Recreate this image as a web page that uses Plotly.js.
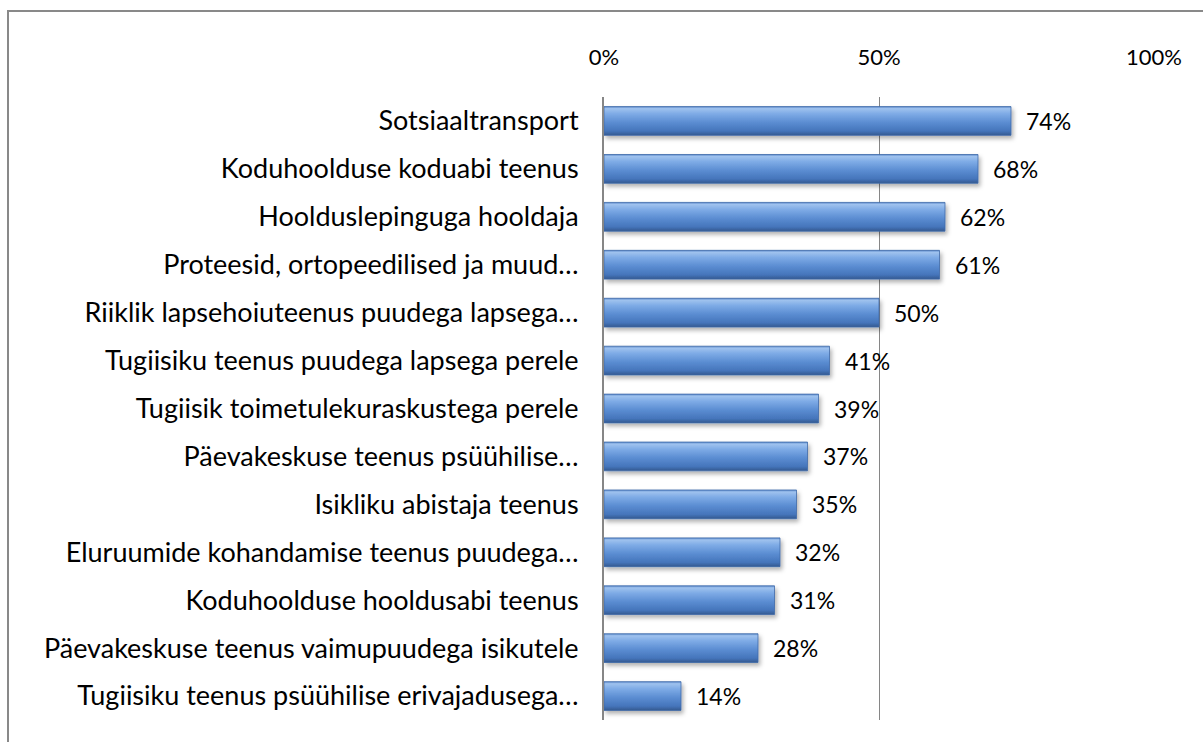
<!DOCTYPE html>
<html>
<head>
<meta charset="utf-8">
<script src="https://cdn.plot.ly/plotly-3.0.1.min.js"></script>
<style>
  html, body { margin: 0; padding: 0; background: #ffffff; }
  #wrap { position: relative; width: 1203px; height: 742px; overflow: hidden; }
  #chart { position: absolute; left: 0; top: 0; width: 1203px; height: 742px; }
  #frameTop { position: absolute; left: 7px; top: 10px; width: 1196px; height: 2px; background: #898989; pointer-events: none; }
  #frameLeft { position: absolute; left: 7px; top: 10px; width: 2px; height: 732px; background: #898989; pointer-events: none; }
</style>
</head>
<body>
<div id="wrap">
  <div id="chart"></div>
  <div id="frameTop"></div>
  <div id="frameLeft"></div>
</div>
<script>
const categories = [
  "Sotsiaaltransport",
  "Koduhoolduse koduabi teenus",
  "Hoolduslepinguga hooldaja",
  "Proteesid, ortopeedilised ja muud…",
  "Riiklik lapsehoiuteenus puudega lapsega…",
  "Tugiisiku teenus puudega lapsega perele",
  "Tugiisik toimetulekuraskustega perele",
  "Päevakeskuse teenus psüühilise…",
  "Isikliku abistaja teenus",
  "Eluruumide kohandamise teenus puudega…",
  "Koduhoolduse hooldusabi teenus",
  "Päevakeskuse teenus vaimupuudega isikutele",
  "Tugiisiku teenus psüühilise erivajadusega…"
];
const values = [74, 68, 62, 61, 50, 41, 39, 37, 35, 32, 31, 28, 14];
const tickValues = [0, 50, 100];
const tickLabels = ["0%", "50%", "100%"];

const FONT = "Lato, 'Open Sans', sans-serif";

const trace = {
  type: "bar",
  orientation: "h",
  x: values,
  y: categories,
  marker: { color: "#5b8fd3", line: { width: 0 } },
  hoverinfo: "skip"
};

const annotations = values.map((v, i) => ({
  x: v, y: categories[i], xref: "x", yref: "y",
  text: v + "%", showarrow: false, xanchor: "left", yanchor: "middle",
  xshift: 13, font: { family: FONT, size: 23, color: "#000000" }
}));

const layout = {
  width: 1203, height: 742,
  margin: { l: 604, r: 49, t: 97, b: 22, pad: 0 },
  paper_bgcolor: "#ffffff", plot_bgcolor: "#ffffff",
  showlegend: false,
  bargap: 0.4,
  font: { family: FONT, color: "#000000" },
  xaxis: {
    side: "top", range: [0, 100], tickvals: tickValues, ticktext: tickLabels,
    showgrid: true, gridcolor: "#868686", gridwidth: 1,
    zeroline: false, showline: false, ticks: "", ticklabelstandoff: 27,
    tickfont: { family: FONT, size: 22, color: "#000000" }, fixedrange: true
  },
  yaxis: {
    autorange: "reversed", type: "category",
    showgrid: false, zeroline: false,
    showline: true, linecolor: "#868686", linewidth: 2,
    ticks: "", ticklabelstandoff: 18,
    tickfont: { family: FONT, size: 27, color: "#000000" }, fixedrange: true
  },
  annotations: annotations
};

Plotly.newPlot("chart", [trace], layout, { displayModeBar: false, staticPlot: true }).then(gd => {
  const svg = gd.querySelector("svg.main-svg");
  const ns = "http://www.w3.org/2000/svg";
  let defs = svg.querySelector("defs");
  if (!defs) { defs = document.createElementNS(ns, "defs"); svg.insertBefore(defs, svg.firstChild); }
  const grad = document.createElementNS(ns, "linearGradient");
  grad.setAttribute("id", "barGrad");
  grad.setAttribute("x1", "0"); grad.setAttribute("y1", "0");
  grad.setAttribute("x2", "0"); grad.setAttribute("y2", "1");
  [["0", "#5d8bcc"], ["0.07", "#9fc2ee"], ["0.25", "#7eabe6"], ["0.55", "#5b8dd2"], ["0.85", "#4575bb"], ["1", "#34598f"]].forEach(([o, c]) => {
    const s = document.createElementNS(ns, "stop");
    s.setAttribute("offset", o); s.setAttribute("stop-color", c);
    grad.appendChild(s);
  });
  defs.appendChild(grad);
  const filt = document.createElementNS(ns, "filter");
  filt.setAttribute("id", "barShadow");
  filt.setAttribute("x", "-5%"); filt.setAttribute("y", "-20%");
  filt.setAttribute("width", "115%"); filt.setAttribute("height", "160%");
  const ds = document.createElementNS(ns, "feDropShadow");
  ds.setAttribute("dx", "2"); ds.setAttribute("dy", "3");
  ds.setAttribute("stdDeviation", "2"); ds.setAttribute("flood-color", "#000000");
  ds.setAttribute("flood-opacity", "0.3");
  filt.appendChild(ds);
  defs.appendChild(filt);
  gd.querySelectorAll(".barlayer .point path").forEach(p => {
    p.style.fill = "url(#barGrad)";
    p.style.stroke = "#3f6aa8";
    p.style.strokeWidth = "0.8";
    p.setAttribute("filter", "url(#barShadow)");
  });
});
</script>
</body>
</html>
